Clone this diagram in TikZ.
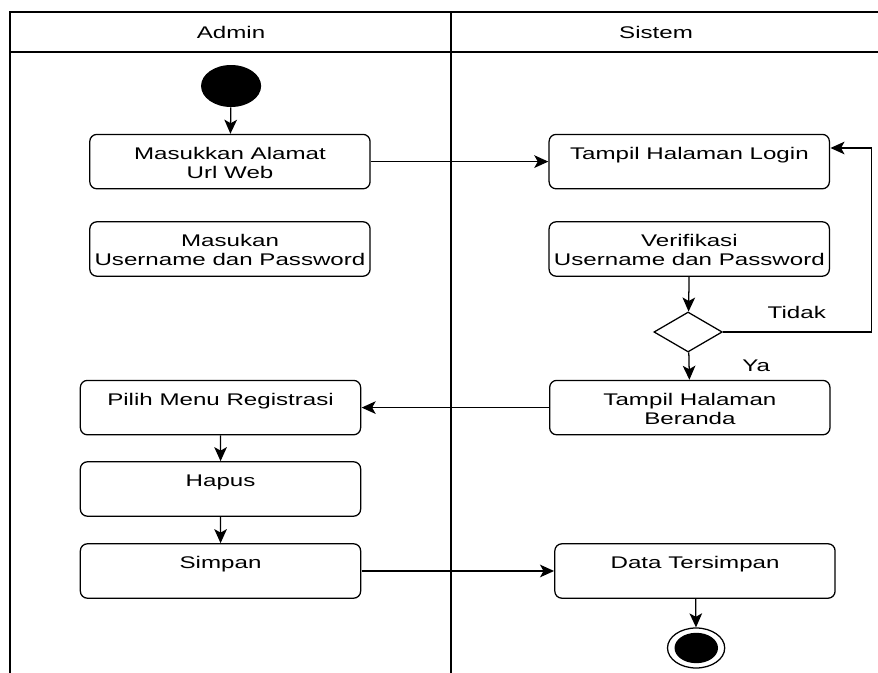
\documentclass[tikz,border=0pt]{standalone}
\usepackage{fontspec}
\setmainfont{Liberation Sans}
\usepackage{tikz}
\usetikzlibrary{shapes,arrows.meta}
\tikzstyle{lane} = [line width=0.9pt]
\tikzstyle{act} = [draw, rounded corners=5pt, line width=0.9pt, minimum width=4.9cm, minimum height=1.36cm]
\tikzstyle{acttext} = [anchor=north, align=center, yshift=-6pt]
\tikzstyle{arrow} = [draw, -{Stealth[length=10pt, width=9pt, inset=2.5pt]}, line width=0.9pt]

\begin{document}
\begin{tikzpicture}[xscale=1.43, every node/.style={transform shape, font=\fontsize{12}{13.5}\selectfont}]
\useasboundingbox (0, 0) rectangle (15.35, -16.825);
%% swimlanes
\draw[lane] (0.175, -16.825) -- (0.175, -0.3) -- (15.35, -0.3);
\draw[lane] (0.175, -1.3) -- (15.35, -1.3);
\draw[lane] (7.885, -0.3) -- (7.885, -16.825);
\node (admin) at (4.04, -0.8) {Admin};
\node (sistem) at (11.47, -0.8) {Sistem};

%% Admin
\node[circle, fill=black, minimum size=1.05cm, inner sep=0] (start) at (4.04, -2.15) {};
\node[act, label={[acttext]north:{Masukkan Alamat\\Url Web}}] (masuk) at (4.02, -4.04) {};
\node[act, label={[acttext]north:{Masukan\\Username dan Password}}] (user) at (4.02, -6.225) {};
\node[act, label={[acttext]north:Pilih Menu Registrasi}] (pilih) at (3.855, -10.19) {};
\node[act, label={[acttext]north:Hapus}] (hapus) at (3.855, -12.225) {};
\node[act, label={[acttext]north:Simpan}] (simpan) at (3.855, -14.275) {};

%% Sistem
\node[act, label={[acttext]north:Tampil Halaman Login}] (login) at (12.05, -4.04) {};
\node[act, label={[acttext]north:{Verifikasi\\Username dan Password}}] (verif) at (12.05, -6.225) {};
\node[diamond, draw, line width=0.9pt, minimum width=1.2cm, minimum height=1cm, inner sep=0] (cek) at (12.03, -8.3) {};
\node[act, label={[acttext]north:{Tampil Halaman\\Beranda}}] (beranda) at (12.06, -10.19) {};
\node[act, label={[acttext]north:Data Tersimpan}] (data) at (12.15, -14.275) {};
\node[circle, draw, line width=0.9pt, minimum size=1cm, inner sep=0] (finish) at (12.17, -16.2) {};
\node[circle, fill=black, minimum size=0.76cm, inner sep=0] (finishdot) at (finish) {};
\node (tidak) at (13.93, -7.8) {Tidak};
\node (ya) at (13.22, -9.15) {Ya};
\coordinate (balik) at (15.23, -3.7);

%% flow
\draw[arrow] (start) -- (masuk);
\draw[arrow] (masuk) -- (login);
\draw[arrow] (verif) -- (cek);
\draw[arrow] (cek.east) -| (balik) -- (login.east |- balik);
\draw[arrow] (cek) -- (beranda);
\draw[arrow] (beranda) -- (pilih);
\draw[arrow] (pilih) -- (hapus);
\draw[arrow] (hapus) -- (simpan);
\draw[arrow] (simpan) -- (data);
\draw[arrow] (data) -- (finish);
\end{tikzpicture}
\end{document}
